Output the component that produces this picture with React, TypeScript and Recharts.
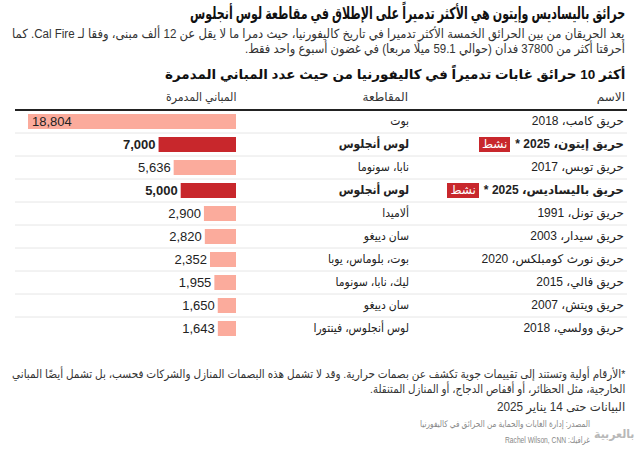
import { useLayoutEffect, useRef, useState } from "react";
import { BarChart, Bar, XAxis, YAxis, Cell, LabelList } from "recharts";

const names = [
  "حريق كامب، 2018",
  "حريق إيتون، 2025 *",
  "حريق توبس، 2017",
  "حريق باليساديس، 2025 *",
  "حريق تونل، 1991",
  "حريق سيدار، 2003",
  "حريق نورث كومبلكس، 2020",
  "حريق فالي، 2015",
  "حريق ويتش، 2007",
  "حريق وولسي، 2018",
];
const counties = [
  "بوت",
  "لوس أنجلوس",
  "نابا، سونوما",
  "لوس أنجلوس",
  "ألاميدا",
  "سان دييغو",
  "بوت، بلوماس، يوبا",
  "ليك، نابا، سونوما",
  "سان دييغو",
  "لوس أنجلوس، فينتورا",
];
const destroyed = [18804, 7000, 5636, 5000, 2900, 2820, 2352, 1955, 1650, 1643];
const active = [false, true, false, true, false, false, false, false, false, false];

const data = names.map((name, i) => ({
  name,
  county: counties[i],
  value: destroyed[i],
  active: active[i],
}));

const FONT = '"Liberation Sans", "DejaVu Sans", sans-serif';
const DARK = "#c8272c";
const LIGHT = "#fbab9c";
const ROW = 23;

// squeeze a line of text horizontally to the width it has in the reference
function Fit({ top, right = 15, width, style, children }: any) {
  const ref = useRef<HTMLSpanElement>(null);
  const [k, setK] = useState(1);
  useLayoutEffect(() => {
    const w = ref.current ? ref.current.offsetWidth : 0;
    if (w > 0) setK(Math.min(1, width / w));
  }, [width]);
  return (
    <div
      dir="rtl"
      style={{
        position: "absolute",
        top,
        right,
        fontFamily: FONT,
        color: "#222",
        whiteSpace: "nowrap",
        textAlign: "right",
        ...style,
      }}
    >
      <span
        ref={ref}
        style={{
          display: "inline-block",
          transform: `scaleX(${k})`,
          transformOrigin: "right center",
        }}
      >
        {children}
      </span>
    </div>
  );
}

function RowTick(props: any) {
  const { y, payload, index } = props;
  const row = data[index] ?? data.find((d) => d.name === payload.value);
  const top = y - ROW / 2;
  const cell = {
    fontFamily: FONT,
    fontSize: 12,
    lineHeight: `${ROW}px`,
    color: "#222",
    whiteSpace: "nowrap" as const,
    textAlign: "right" as const,
    fontWeight: row.active ? 700 : 400,
  };
  return (
    <g>
      {index > 0 && <line x1={15} x2={627} y1={top} y2={top} stroke="#e6e6e6" strokeWidth={1} />}
      <foreignObject x={420} y={top} width={204} height={ROW}>
        <div dir="rtl" style={cell}>
          {row.name}
          {row.active && (
            <span
              style={{
                display: "inline-block",
                background: DARK,
                color: "#fff",
                fontWeight: 400,
                lineHeight: "15px",
                padding: "0 3px",
                marginRight: 5,
                verticalAlign: "middle",
              }}
            >
              نشط
            </span>
          )}
        </div>
      </foreignObject>
      <foreignObject x={250} y={top} width={159} height={ROW}>
        <div dir="rtl" style={{ ...cell, transform: "scaleX(0.9)", transformOrigin: "right center" }}>
          {row.county}
        </div>
      </foreignObject>
    </g>
  );
}

function ValueLabel(props: any) {
  const { x, y, width, height, index } = props;
  const row = data[index];
  const left = Math.min(x, x + width);
  const w = Math.abs(width);
  const inside = w > 150;
  return (
    <text
      x={inside ? left + 4 : left - 3}
      y={y + height / 2}
      dy="0.36em"
      textAnchor={inside ? "start" : "end"}
      fontFamily={FONT}
      fontSize={13}
      fontWeight={row.active ? 700 : 400}
      fill="#222"
    >
      {row.value.toLocaleString("en-US")}
    </text>
  );
}

export default function App() {
  return (
    <div
      style={{
        position: "absolute",
        left: 0,
        top: 0,
        width: 640,
        height: 451,
        background: "#fff",
        overflow: "hidden",
      }}
    >
      <Fit top={4} width={435} style={{ fontSize: 16.5, fontWeight: 700, color: "#111" }}>
        حرائق باليساديس وإيتون هي الأكثر تدميراً على الإطلاق في مقاطعة لوس أنجلوس
      </Fit>
      <Fit top={27} width={613} style={{ fontSize: 12.5, lineHeight: "15px", color: "#333" }}>
        يعد الحريقان من بين الحرائق الخمسة الأكثر تدميرا في تاريخ كاليفورنيا، حيث دمرا ما لا يقل عن 12 ألف مبنى، وفقا لـ Cal Fire. كما
      </Fit>
      <Fit top={42} width={380} style={{ fontSize: 12.5, lineHeight: "15px", color: "#333" }}>
        أحرقتا أكثر من 37800 فدان (حوالي 59.1 ميلًا مربعا) في غضون أسبوع واحد فقط.
      </Fit>
      <Fit top={66} width={460} style={{ fontSize: 13.5, fontWeight: 700, color: "#111" }}>
        أكثر 10 حرائق غابات تدميراً في كاليفورنيا من حيث عدد المباني المدمرة
      </Fit>
      <Fit top={90} width={200} style={{ fontSize: 12, color: "#333" }}>
        الاسم
      </Fit>
      <Fit top={90} right={232} width={200} style={{ fontSize: 12, color: "#333" }}>
        المقاطعة
      </Fit>
      <Fit top={90} right={404} width={70} style={{ fontSize: 12, color: "#333" }}>
        المباني المدمرة
      </Fit>
      <div
        style={{ position: "absolute", top: 109, left: 15, width: 612, height: 2, background: "#222" }}
      />
      <div style={{ position: "absolute", top: 110, left: 0 }}>
        <BarChart
          width={640}
          height={ROW * 10}
          data={data}
          layout="vertical"
          margin={{ top: 0, right: 17, bottom: 0, left: 28 }}
          barCategoryGap={0}
        >
          <XAxis type="number" reversed hide domain={[0, "dataMax"]} />
          <YAxis
            type="category"
            dataKey="name"
            orientation="right"
            width={387}
            axisLine={false}
            tickLine={false}
            interval={0}
            tick={<RowTick />}
          />
          <Bar dataKey="value" barSize={15} isAnimationActive={false}>
            {data.map((d, i) => (
              <Cell key={i} fill={d.active ? DARK : LIGHT} />
            ))}
            <LabelList dataKey="value" content={<ValueLabel />} />
          </Bar>
        </BarChart>
      </div>
      <Fit top={367} width={613} style={{ fontSize: 11.5, lineHeight: "15px", color: "#333" }}>
        *الأرقام أولية وتستند إلى تقييمات جوية تكشف عن بصمات حرارية. وقد لا تشمل هذه البصمات المنازل والشركات فحسب، بل تشمل أيضًا المباني
      </Fit>
      <Fit top={382} width={255} style={{ fontSize: 11.5, lineHeight: "15px", color: "#333" }}>
        الخارجية، مثل الحظائر، أو أقفاص الدجاج، أو المنازل المتنقلة.
      </Fit>
      <Fit top={400} width={128} style={{ fontSize: 12, color: "#333" }}>
        البيانات حتى 14 يناير 2025
      </Fit>
      <Fit top={419} right={50} width={170} style={{ fontSize: 9, color: "#888" }}>
        المصدر: إدارة الغابات والحماية من الحرائق في كاليفورنيا
      </Fit>
      <Fit top={435} right={50} width={85} style={{ fontSize: 9, color: "#888" }}>
        غرافيك: Rachel Wilson, CNN
      </Fit>
      <Fit top={427} right={6} width={40} style={{ fontSize: 12, fontWeight: 700, color: "#b8b8b8" }}>
        بالعربية
      </Fit>
    </div>
  );
}
